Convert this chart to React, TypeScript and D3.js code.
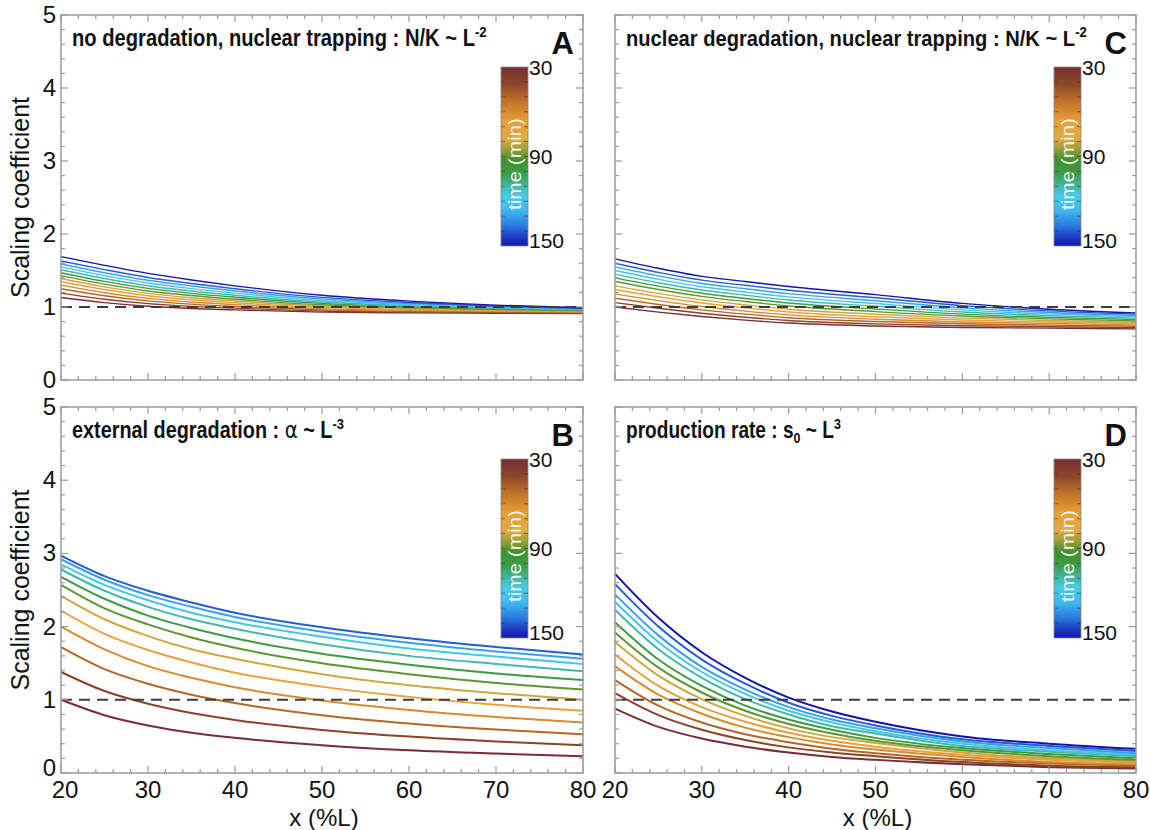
import React, { useEffect, useRef } from "react";
import * as d3 from "d3";

// ---------- data ----------
const xTickValues = [20, 30, 40, 50, 60, 70, 80];
const yTickValues = [0, 1, 2, 3, 4, 5];
const colorbarTickLabels = [30, 90, 150];

const timesA = [30, 40, 50, 60, 70, 80, 90, 100, 110, 120, 130, 140, 150];
const timesB = [30, 40, 50, 60, 70, 80, 90, 100, 110, 120, 130, 140];
const timesC = [30, 40, 50, 60, 70, 80, 90, 100, 110, 120, 130, 140, 150];
const timesD = [30, 40, 50, 60, 70, 80, 90, 100, 110, 120, 130, 140, 150];

const xA = [20, 25, 30, 35, 40, 50, 60, 70, 80];
const xB = [20, 25, 30, 35, 40, 50, 60, 70, 80];
const xC = [20, 25, 30, 35, 40, 50, 60, 70, 80];
const xD = [20, 25, 30, 35, 40, 45, 50, 60, 70, 80];

const seriesA = [
  [1.13, 1.06, 1.01, 0.98, 0.96, 0.93, 0.92, 0.915, 0.91],
  [1.19, 1.106, 1.046, 1.009, 0.984, 0.945, 0.931, 0.924, 0.917],
  [1.25, 1.154, 1.084, 1.039, 1.008, 0.961, 0.942, 0.932, 0.923],
  [1.3, 1.196, 1.118, 1.068, 1.033, 0.978, 0.954, 0.941, 0.93],
  [1.35, 1.239, 1.155, 1.099, 1.058, 0.996, 0.967, 0.95, 0.937],
  [1.39, 1.275, 1.187, 1.127, 1.082, 1.012, 0.979, 0.958, 0.943],
  [1.43, 1.313, 1.22, 1.157, 1.107, 1.03, 0.992, 0.968, 0.95],
  [1.47, 1.351, 1.255, 1.187, 1.134, 1.049, 1.005, 0.977, 0.957],
  [1.51, 1.39, 1.291, 1.219, 1.161, 1.068, 1.018, 0.985, 0.963],
  [1.55, 1.429, 1.328, 1.252, 1.19, 1.089, 1.033, 0.995, 0.97],
  [1.59, 1.47, 1.366, 1.287, 1.219, 1.111, 1.047, 1.005, 0.977],
  [1.63, 1.512, 1.405, 1.322, 1.25, 1.132, 1.062, 1.014, 0.983],
  [1.69, 1.57, 1.46, 1.37, 1.29, 1.16, 1.08, 1.025, 0.99],
];

const seriesB = [
  [1.0, 0.79, 0.65, 0.55, 0.48, 0.38, 0.31, 0.265, 0.23],
  [1.38, 1.12, 0.947, 0.82, 0.724, 0.589, 0.497, 0.431, 0.38],
  [1.72, 1.42, 1.22, 1.07, 0.955, 0.79, 0.677, 0.594, 0.53],
  [2.0, 1.69, 1.46, 1.3, 1.17, 0.99, 0.86, 0.764, 0.69],
  [2.22, 1.9, 1.68, 1.51, 1.37, 1.18, 1.04, 0.932, 0.85],
  [2.42, 2.1, 1.87, 1.69, 1.56, 1.35, 1.2, 1.09, 1.0],
  [2.57, 2.25, 2.03, 1.85, 1.71, 1.5, 1.35, 1.23, 1.14],
  [2.68, 2.38, 2.15, 1.98, 1.84, 1.63, 1.48, 1.36, 1.27],
  [2.78, 2.49, 2.27, 2.1, 1.97, 1.76, 1.6, 1.49, 1.39],
  [2.85, 2.57, 2.36, 2.19, 2.06, 1.86, 1.7, 1.59, 1.49],
  [2.92, 2.64, 2.43, 2.27, 2.13, 1.93, 1.78, 1.66, 1.56],
  [2.97, 2.69, 2.49, 2.33, 2.19, 1.99, 1.84, 1.72, 1.62],
];

const seriesC = [
  [1.0, 0.93, 0.87, 0.82, 0.78, 0.74, 0.72, 0.71, 0.7],
  [1.06, 0.982, 0.915, 0.86, 0.815, 0.769, 0.744, 0.73, 0.718],
  [1.12, 1.035, 0.961, 0.902, 0.853, 0.801, 0.77, 0.752, 0.737],
  [1.18, 1.087, 1.007, 0.944, 0.892, 0.833, 0.795, 0.773, 0.755],
  [1.24, 1.14, 1.055, 0.988, 0.932, 0.867, 0.821, 0.794, 0.773],
  [1.29, 1.186, 1.097, 1.029, 0.97, 0.901, 0.848, 0.816, 0.792],
  [1.35, 1.24, 1.146, 1.075, 1.014, 0.937, 0.876, 0.838, 0.81],
  [1.4, 1.286, 1.189, 1.117, 1.054, 0.973, 0.903, 0.858, 0.828],
  [1.45, 1.332, 1.233, 1.161, 1.096, 1.01, 0.931, 0.881, 0.847],
  [1.5, 1.379, 1.277, 1.205, 1.139, 1.047, 0.96, 0.902, 0.865],
  [1.55, 1.427, 1.322, 1.25, 1.183, 1.086, 0.988, 0.924, 0.883],
  [1.6, 1.474, 1.368, 1.297, 1.229, 1.126, 1.019, 0.947, 0.902],
  [1.66, 1.53, 1.42, 1.35, 1.28, 1.17, 1.05, 0.97, 0.92],
];

const seriesD = [
  [0.88, 0.63, 0.47, 0.36, 0.28, 0.22, 0.18, 0.12, 0.08, 0.06],
  [1.09, 0.79, 0.59, 0.45, 0.35, 0.28, 0.23, 0.15, 0.1, 0.08],
  [1.27, 0.92, 0.69, 0.53, 0.42, 0.33, 0.27, 0.18, 0.13, 0.1],
  [1.46, 1.07, 0.81, 0.62, 0.49, 0.39, 0.32, 0.22, 0.15, 0.12],
  [1.62, 1.19, 0.9, 0.7, 0.55, 0.44, 0.36, 0.25, 0.18, 0.14],
  [1.79, 1.33, 1.01, 0.78, 0.61, 0.49, 0.41, 0.28, 0.2, 0.16],
  [1.92, 1.44, 1.1, 0.85, 0.67, 0.54, 0.44, 0.31, 0.23, 0.18],
  [2.06, 1.55, 1.19, 0.92, 0.73, 0.59, 0.48, 0.34, 0.26, 0.2],
  [2.23, 1.69, 1.3, 1.01, 0.8, 0.64, 0.54, 0.37, 0.29, 0.23],
  [2.34, 1.79, 1.38, 1.08, 0.85, 0.69, 0.57, 0.4, 0.31, 0.25],
  [2.44, 1.88, 1.45, 1.14, 0.9, 0.73, 0.61, 0.43, 0.34, 0.27],
  [2.58, 2.0, 1.55, 1.22, 0.96, 0.78, 0.65, 0.46, 0.37, 0.3],
  [2.72, 2.12, 1.65, 1.3, 1.03, 0.84, 0.7, 0.5, 0.4, 0.33],
];

// colormap (time fraction 0 = 30 min, 1 = 150 min)
const cmapStops = [0, 0.1, 0.2, 0.3, 0.4, 0.46, 0.52, 0.6, 0.66, 0.72, 0.8, 0.88, 0.95, 1];
const cmapColors = [
  "#7a2c34", "#8e4826", "#c47628", "#e99e34", "#e2aa42", "#9a9e34", "#3e922c",
  "#3a9e48", "#40b8a0", "#46cce8", "#40b8f2", "#2c80e0", "#1c3cc4", "#1212b0",
];

type Part = { t: string; kind?: "sup" | "sub" | "greek" };

const FONT = "'Liberation Sans', Arial, Helvetica, sans-serif";

export default function App() {
  const ref = useRef<SVGSVGElement>(null);

  useEffect(() => {
    const svg = d3.select(ref.current as SVGSVGElement);
    svg.selectAll("*").remove();

    const frac = d3.scaleLinear().domain([30, 150]).range([0, 1]);
    const cmap = d3
      .scaleLinear<string>()
      .domain(cmapStops)
      .range(cmapColors)
      .interpolate(d3.interpolateRgb);
    const colorOf = (t: number) => cmap(frac(t));

    // gradient
    const defs = svg.append("defs");
    const grad = defs
      .append("linearGradient")
      .attr("id", "cbgrad")
      .attr("x1", 0).attr("x2", 0).attr("y1", 0).attr("y2", 1);
    cmapStops.forEach((s, i) => {
      grad.append("stop").attr("offset", s).attr("stop-color", cmapColors[i]);
    });

    const panels = [
      {
        left: 61, right: 583, top: 15, bottom: 380,
        xs: xA, times: timesA, series: seriesA, lw: 1.4,
        title: [{ t: "no degradation, nuclear trapping : N/K ~ L" }, { t: "-2", kind: "sup" }] as Part[],
        titleW: 415, letter: "A", xLabels: false, yLabels: true,
      },
      {
        left: 615, right: 1136, top: 15, bottom: 380,
        xs: xC, times: timesC, series: seriesC, lw: 1.4,
        title: [{ t: "nuclear degradation, nuclear trapping : N/K ~ L" }, { t: "-2", kind: "sup" }] as Part[],
        titleW: 461, letter: "C", xLabels: false, yLabels: false,
      },
      {
        left: 61, right: 583, top: 407, bottom: 773,
        xs: xB, times: timesB, series: seriesB, lw: 2,
        title: [{ t: "external degradation : " }, { t: "\u03b1", kind: "greek" }, { t: " ~ L" }, { t: "-3", kind: "sup" }] as Part[],
        titleW: 272, letter: "B", xLabels: true, yLabels: true,
      },
      {
        left: 615, right: 1136, top: 407, bottom: 773,
        xs: xD, times: timesD, series: seriesD, lw: 2,
        title: [{ t: "production rate : s" }, { t: "0", kind: "sub" }, { t: " ~ L" }, { t: "3", kind: "sup" }] as Part[],
        titleW: 215, letter: "D", xLabels: true, yLabels: false,
      },
    ];

    const frameColor = "#9a9a9a";

    panels.forEach((p) => {
      const g = svg.append("g");
      const x = d3.scaleLinear().domain([20, 80]).range([p.left, p.right]);
      const y = d3.scaleLinear().domain([0, 5]).range([p.bottom, p.top]);

      // curves
      p.series.forEach((vals, i) => {
        const line = d3
          .line<number>()
          .x((_, j) => x(p.xs[j]))
          .y((d) => y(d))
          .curve(d3.curveMonotoneX);
        g.append("path")
          .attr("d", line(vals) as string)
          .attr("fill", "none")
          .attr("stroke", colorOf(p.times[i]))
          .attr("stroke-width", p.lw);
      });

      // dashed reference line
      g.append("line")
        .attr("x1", x(20)).attr("x2", x(80))
        .attr("y1", y(1)).attr("y2", y(1))
        .attr("stroke", "#3c3c3c")
        .attr("stroke-width", 2)
        .attr("stroke-dasharray", "11 7");

      // frame
      g.append("rect")
        .attr("x", p.left).attr("y", p.top)
        .attr("width", p.right - p.left).attr("height", p.bottom - p.top)
        .attr("fill", "none")
        .attr("stroke", frameColor)
        .attr("stroke-width", 1.5);

      // x ticks (top and bottom, inward)
      d3.range(20, 80.001, 2).forEach((v) => {
        const major = Math.abs(v % 10) < 1e-6;
        const len = major ? 7 : 4;
        const xx = x(v);
        g.append("line").attr("x1", xx).attr("x2", xx).attr("y1", p.bottom).attr("y2", p.bottom - len)
          .attr("stroke", frameColor).attr("stroke-width", 1.2);
        g.append("line").attr("x1", xx).attr("x2", xx).attr("y1", p.top).attr("y2", p.top + len)
          .attr("stroke", frameColor).attr("stroke-width", 1.2);
      });
      // y ticks (left and right, inward)
      d3.range(0, 5.001, 0.2).forEach((v) => {
        const major = Math.abs(v - Math.round(v)) < 1e-6;
        const len = major ? 7 : 4;
        const yy = y(v);
        g.append("line").attr("x1", p.left).attr("x2", p.left + len).attr("y1", yy).attr("y2", yy)
          .attr("stroke", frameColor).attr("stroke-width", 1.2);
        g.append("line").attr("x1", p.right).attr("x2", p.right - len).attr("y1", yy).attr("y2", yy)
          .attr("stroke", frameColor).attr("stroke-width", 1.2);
      });

      // y tick labels
      if (p.yLabels) {
        yTickValues.forEach((v) => {
          g.append("text")
            .attr("x", p.left - 5)
            .attr("y", y(v) + (v === 0 && p.xLabels ? 3 : 8))
            .attr("text-anchor", "end")
            .attr("font-family", FONT)
            .attr("font-size", 24)
            .attr("fill", "#111")
            .text(String(v));
        });
        g.append("text")
          .attr("transform", `translate(${29},${(p.top + p.bottom) / 2}) rotate(-90)`)
          .attr("text-anchor", "middle")
          .attr("font-family", FONT)
          .attr("font-size", 25)
          .attr("fill", "#111")
          .text("Scaling coefficient");
      }
      // x tick labels
      if (p.xLabels) {
        xTickValues.forEach((v) => {
          g.append("text")
            .attr("x", x(v) + (v === 20 && p.yLabels ? 4 : 0))
            .attr("y", p.bottom + 25)
            .attr("text-anchor", "middle")
            .attr("font-family", FONT)
            .attr("font-size", 24)
            .attr("fill", "#111")
            .text(String(v));
        });
        g.append("text")
          .attr("x", (p.left + p.right) / 2 + 2)
          .attr("y", p.bottom + 53)
          .attr("text-anchor", "middle")
          .attr("font-family", FONT)
          .attr("font-size", 24)
          .attr("fill", "#111")
          .text("x (%L)");
      }

      // title
      const tg = g.append("g");
      const tt = tg.append("text")
        .attr("x", 0).attr("y", 0)
        .attr("font-family", FONT)
        .attr("font-weight", "bold")
        .attr("font-size", 23)
        .attr("fill", "#111");
      let shift = 0;
      p.title.forEach((part) => {
        const ts = tt.append("tspan").text(part.t);
        if (part.kind === "sup") {
          ts.attr("font-size", 15).attr("dy", -9 - shift);
          shift = -9;
        } else if (part.kind === "sub") {
          ts.attr("font-size", 15).attr("dy", 5 - shift);
          shift = 5;
        } else if (part.kind === "greek") {
          ts.attr("font-weight", "normal").attr("font-family", "'DejaVu Sans', sans-serif").attr("dy", -shift);
          shift = 0;
        } else {
          ts.attr("dy", -shift);
          shift = 0;
        }
      });
      const node = tt.node() as SVGTextElement;
      const w = node.getBBox().width || 1;
      tg.attr("transform", `translate(${p.left + 11},${p.top + 31}) scale(${p.titleW / w},1)`);

      // panel letter
      g.append("text")
        .attr("x", p.right - 9)
        .attr("y", p.top + 39)
        .attr("text-anchor", "end")
        .attr("font-family", FONT)
        .attr("font-weight", "bold")
        .attr("font-size", 31)
        .attr("fill", "#111")
        .text(p.letter);

      // colorbar
      const cbL = p.right - 82;
      const cbW = 27;
      const cbT = p.top + 52;
      const cbB = p.top + 231;
      const cy = d3.scaleLinear().domain([30, 150]).range([cbT, cbB]);
      g.append("rect")
        .attr("x", cbL).attr("y", cbT).attr("width", cbW).attr("height", cbB - cbT)
        .attr("fill", "url(#cbgrad)")
        .attr("stroke", "#8a8a8a").attr("stroke-width", 0.8);
      d3.range(40, 150, 10).forEach((t) => {
        g.append("line").attr("x1", cbL + cbW).attr("x2", cbL + cbW - 4)
          .attr("y1", cy(t)).attr("y2", cy(t))
          .attr("stroke", "rgba(40,40,40,0.55)").attr("stroke-width", 1);
        g.append("line").attr("x1", cbL).attr("x2", cbL + 4)
          .attr("y1", cy(t)).attr("y2", cy(t))
          .attr("stroke", "rgba(40,40,40,0.45)").attr("stroke-width", 1);
      });
      colorbarTickLabels.forEach((t) => {
        const off = t === 30 ? 8 : t === 150 ? 2 : 7;
        g.append("text")
          .attr("x", cbL + cbW + 1)
          .attr("y", cy(t) + off)
          .attr("font-family", FONT)
          .attr("font-size", 21)
          .attr("fill", "#111")
          .text(String(t));
      });
      g.append("text")
        .attr("transform", `translate(${cbL + cbW / 2 + 6},${cbT + 97}) rotate(-90)`)
        .attr("text-anchor", "middle")
        .attr("font-family", FONT)
        .attr("font-size", 18)
        .attr("fill", "#f4f4f4")
        .attr("textLength", 92)
        .attr("lengthAdjust", "spacingAndGlyphs")
        .text("time (min)");
    });
  }, []);

  return (
    <svg
      ref={ref}
      width={1150}
      height={830}
      style={{ position: "absolute", left: 0, top: 0, background: "#fff" }}
    />
  );
}
